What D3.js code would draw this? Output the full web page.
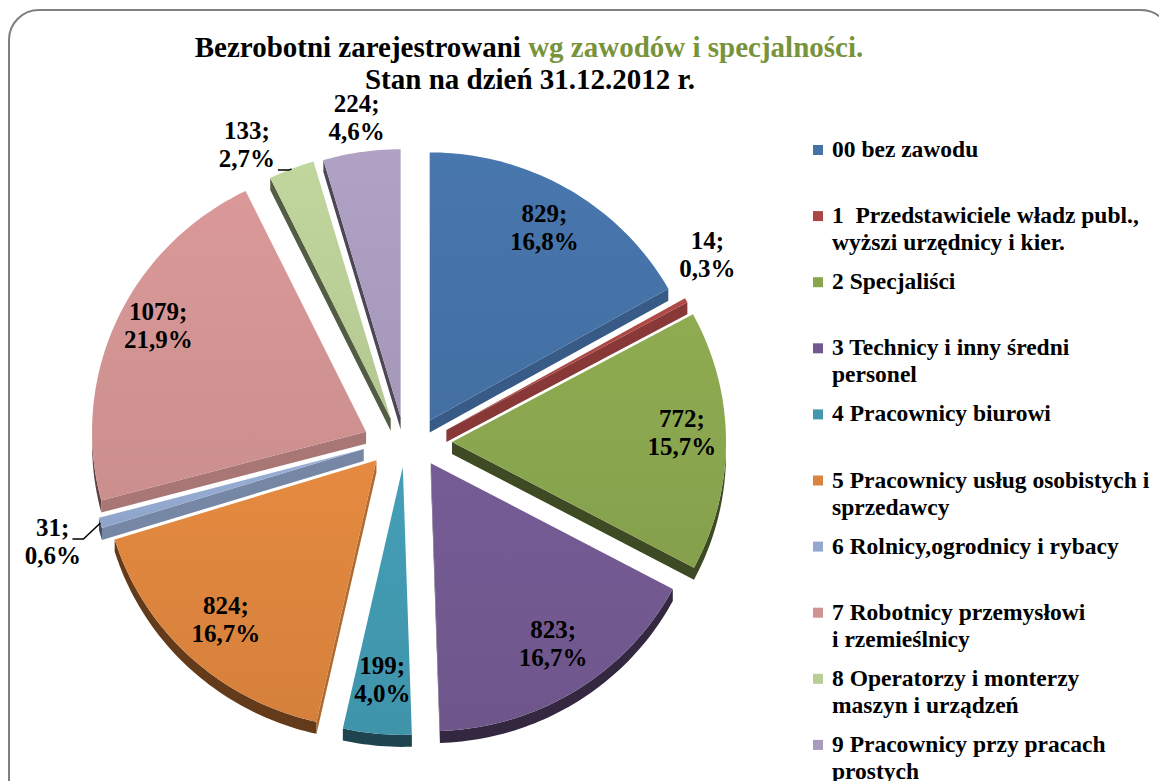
<!DOCTYPE html>
<html lang="pl">
<head>
<meta charset="UTF-8">
<title>Bezrobotni wg zawodów</title>
<script src="https://cdn.jsdelivr.net/npm/d3@7"></script>
<style>
  body { margin: 0; background: #fff; }
  svg text { font-family: "Liberation Serif", "Times New Roman", serif; font-weight: bold; fill: #000; }
</style>
</head>
<body>
<script>
// data
const categories = [
  ["00 bez zawodu"],
  ["1  Przedstawiciele władz publ.,", "wyższi urzędnicy i kier."],
  ["2 Specjaliści"],
  ["3 Technicy i inny średni", "personel"],
  ["4 Pracownicy biurowi"],
  ["5 Pracownicy usług osobistych i", "sprzedawcy"],
  ["6 Rolnicy,ogrodnicy i rybacy"],
  ["7 Robotnicy przemysłowi", "i rzemieślnicy"],
  ["8 Operatorzy i monterzy", "maszyn i urządzeń"],
  ["9 Pracownicy przy pracach", "prostych"]
];
const values = [829, 14, 772, 823, 199, 824, 31, 1079, 133, 224];
const percents = ["16,8%", "0,3%", "15,7%", "16,7%", "4,0%", "16,7%", "0,6%", "21,9%", "2,7%", "4,6%"];
const colors = ["#4572A7", "#AA4643", "#89A54E", "#71588F", "#4198AF", "#DB843D", "#93A9CF", "#D19392", "#B9CD96", "#A99BBD"];

// label placement: radius factor, angle nudge (deg), leader attached to line n (0 = none)
const labelR = [0.83, 1.155, 0.84, 0.81, 0.8, 0.81, 1.187, 0.855, 1.148, 1.128];
const labelTurn = [0, -5.5, -2, -1.5, 0, 0, -1, 3, -6, 0];
const leaderLine = [0, 0, 0, 0, 0, 0, 1, 0, 2, 0];

const width = 1159, height = 781;
const cx = 407, cy = 442, rx = 274, ry = 268, depth = 12;
const explodeX = 45, explodeY = 25;

const svg = d3.select("body").append("svg")
    .attr("width", width)
    .attr("height", height);

// rounded frame
svg.append("rect")
    .attr("x", 9).attr("y", 10)
    .attr("width", 1162).attr("height", 820)
    .attr("rx", 30)
    .attr("fill", "#fff")
    .attr("stroke", "#7f7f7f")
    .attr("stroke-width", 2);

// title
const title = svg.append("text")
    .attr("x", 529).attr("y", 57)
    .attr("text-anchor", "middle")
    .style("font-size", "29px");
title.append("tspan").text("Bezrobotni zarejestrowani ");
title.append("tspan").style("fill", "#77933C").text("wg zawodów i specjalności.");
svg.append("text")
    .attr("x", 530).attr("y", 89)
    .attr("text-anchor", "middle")
    .style("font-size", "29px")
    .text("Stan na dzień 31.12.2012 r.");

const arcs = d3.pie().sort(null).value(d => d)(values);

function vertex(a) { return [cx + explodeX * Math.sin(a), cy - explodeY * Math.cos(a)]; }
function pt(v, a, r) { return [v[0] + rx * r * Math.sin(a), v[1] - ry * r * Math.cos(a)]; }
function arcPts(v, a0, a1, dy) {
    const n = Math.max(2, Math.ceil((a1 - a0) / 0.02));
    return d3.range(n + 1).map(k => {
        const p = pt(v, a0 + (a1 - a0) * k / n, 1);
        return [p[0], p[1] + dy];
    });
}
function shade(c, f) {
    const r = d3.rgb(c);
    return d3.rgb(r.r * f, r.g * f, r.b * f).formatHex();
}
const line = d3.line();

const walls = svg.append("g");
const tops = svg.append("g");
const defs = svg.append("defs");

arcs.forEach((d, i) => {
    const a0 = d.startAngle, a1 = d.endAngle, m = (a0 + a1) / 2;
    const v = vertex(m);
    const col = colors[i];

    // outer wall, only the front half is visible
    const b0 = Math.max(a0, Math.PI / 2), b1 = Math.min(a1, 3 * Math.PI / 2);
    if (b1 > b0) {
        const pts = arcPts(v, b0, b1, 0).concat(arcPts(v, b0, b1, depth).reverse());
        walls.append("path").attr("d", line(pts) + "Z").attr("fill", shade(col, 0.45));
    }
    // radial cut faces
    [[a0, a0 - Math.PI / 2], [a1, a1 + Math.PI / 2]].forEach(([a, n]) => {
        if (Math.cos(n) < 0) {
            const p = pt(v, a, 1);
            const quad = [v, p, [p[0], p[1] + depth], [v[0], v[1] + depth]];
            walls.append("path").attr("d", line(quad) + "Z")
                .attr("fill", shade(col, Math.sin(n) > 0 ? 0.8 : 0.45));
        }
    });

    // top face with a light gradient
    const g = defs.append("linearGradient").attr("id", "g" + i)
        .attr("x1", 0).attr("y1", 0).attr("x2", 0).attr("y2", 1);
    g.append("stop").attr("offset", 0).attr("stop-color", d3.color(col).brighter(0.12));
    g.append("stop").attr("offset", 1).attr("stop-color", d3.color(col).darker(0.08));
    tops.append("path")
        .attr("d", line([v].concat(arcPts(v, a0, a1, 0))) + "Z")
        .attr("fill", "url(#g" + i + ")");
});

// data labels
const labels = svg.append("g").style("font-size", "25px");
arcs.forEach((d, i) => {
    const m = (d.startAngle + d.endAngle) / 2;
    const v = vertex(m);
    const p = pt(v, m + labelTurn[i] * Math.PI / 180, labelR[i]);
    const lines = [values[i] + ";", percents[i]];
    lines.forEach((t, k) => {
        const el = labels.append("text")
            .attr("x", p[0])
            .attr("y", p[1] - 14 + k * 28 + 8)
            .attr("text-anchor", "middle")
            .text(t);
        if (leaderLine[i] === k + 1) {
            const w = el.node().getComputedTextLength();
            const s = [p[0] + w / 2 + 3, p[1] - 14 + k * 28 + 11];
            const e = pt(v, m, 1);
            labels.append("path")
                .attr("d", line([s, [s[0] + 11, s[1]], e]))
                .attr("fill", "none")
                .attr("stroke", "#000")
                .attr("stroke-width", 1.5);
        }
    });
});

// legend
const legendX = 813, legendY0 = 150, legendStep = 66.1;
const legend = svg.append("g").style("font-size", "23.5px");
categories.forEach((c, i) => {
    const y = legendY0 + i * legendStep;
    legend.append("rect")
        .attr("x", legendX).attr("y", y - 5)
        .attr("width", 10).attr("height", 10)
        .attr("fill", colors[i]);
    c.forEach((t, k) => {
        legend.append("text")
            .attr("x", 832)
            .attr("y", y + 7 + k * 27)
            .attr("xml:space", "preserve")
            .style("white-space", "pre")
            .text(t);
    });
});
</script>
</body>
</html>
